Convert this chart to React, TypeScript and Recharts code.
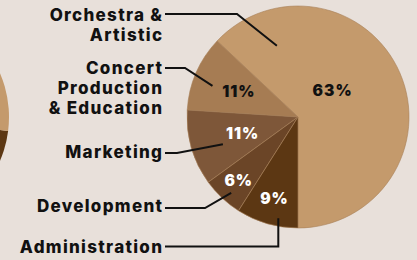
import { PieChart, Pie, Cell } from "recharts";

// budget split
const categories = ["Orchestra & Artistic", "Concert Production & Education", "Marketing", "Development", "Administration"];
const shares = [63, 11, 11, 6, 9];
const labelLines = [["Orchestra &", "Artistic"], ["Concert", "Production", "& Education"], ["Marketing"], ["Development"], ["Administration"]];

// the neighbouring pie that is cut off at the left edge
const neighbourNames = ["Administration", "Orchestra & Artistic"];
const neighbourShares = [23, 77];

const sliceColors = ["#c49a6c", "#a67c53", "#7e5739", "#6b4527", "#5c3713"];
const pctColors = ["#111111", "#111111", "#ffffff", "#ffffff", "#ffffff"];
const neighbourColors = ["#5c3713", "#c49a6c"];
const BG = "#e8e0da";
const FONT = "Inter, 'DejaVu Sans', sans-serif";

const data = categories.map((name, i) => ({ name, value: shares[i] }));
const neighbourData = neighbourNames.map((name, i) => ({ name, value: neighbourShares[i] }));

// callout placement: text baseline, leader y, elbow x, where the leader ends inside the slice
const callouts = [
  { baseline: 21, lineY: 14, elbowX: 237, tipAngle: 106.5, tipR: 0.67, pctAngle: 37, pctR: 0.39 },
  { baseline: 74, lineY: 68, elbowX: 185, tipAngle: 160, tipR: 0.82, pctR: 0.58 },
  { baseline: 158, lineY: 153, elbowX: 177, tipAngle: 200, tipR: 0.72, pctR: 0.52 },
  { baseline: 212, lineY: 208, elbowX: 205, tipAngle: 228.6, tipR: 0.91, pctR: 0.78 },
  { baseline: 253, lineY: 246.5, elbowX: null, tipAngle: 259, tipR: 0.93, pctR: 0.76 },
];

const TEXT_RIGHT = 162;
const SPACING = 1.3;
const RAD = Math.PI / 180;

const polar = (cx: number, cy: number, r: number, a: number) => ({
  x: cx + r * Math.cos(-a * RAD),
  y: cy + r * Math.sin(-a * RAD),
});

const renderCallout = (props: any) => {
  const { cx, cy, midAngle, outerRadius, index, value } = props;
  const c = callouts[index];
  const tip = polar(cx, cy, outerRadius * c.tipR, c.tipAngle);
  const pct = polar(cx, cy, outerRadius * c.pctR, c.pctAngle ?? midAngle);
  const elbowX = c.elbowX ?? tip.x;
  return (
    <g>
      <polyline
        points={`${TEXT_RIGHT + 3},${c.lineY} ${elbowX},${c.lineY} ${tip.x},${tip.y}`}
        fill="none"
        stroke="#111111"
        strokeWidth={2}
      />
      <text
        x={TEXT_RIGHT + SPACING}
        y={c.baseline}
        textAnchor="end"
        fill="#111111"
        style={{ fontFamily: FONT, fontWeight: 800, fontSize: 17, letterSpacing: SPACING }}
      >
        {labelLines[index].map((line, j) => (
          <tspan key={j} x={TEXT_RIGHT + SPACING} dy={j === 0 ? 0 : 20}>
            {line}
          </tspan>
        ))}
      </text>
      <text
        x={pct.x}
        y={pct.y}
        textAnchor="middle"
        dominantBaseline="central"
        fill={pctColors[index]}
        style={{ fontFamily: FONT, fontWeight: 900, fontSize: 15.5, letterSpacing: 1 }}
      >
        {`${value}%`}
      </text>
    </g>
  );
};

export default function App() {
  return (
    <div style={{ position: "fixed", left: 0, top: 0, width: 417, height: 260, background: BG, overflow: "hidden" }}>
      <PieChart width={417} height={260} margin={{ top: 0, right: 0, bottom: 0, left: 0 }}>
        <Pie
          data={neighbourData}
          dataKey="value"
          cx={-102}
          cy={117}
          outerRadius={111}
          startAngle={-90}
          endAngle={270}
          stroke="none"
          isAnimationActive={false}
        >
          {neighbourData.map((d, i) => (
            <Cell key={d.name} fill={neighbourColors[i]} />
          ))}
        </Pie>
        <Pie
          data={data}
          dataKey="value"
          cx={298}
          cy={117}
          outerRadius={111}
          startAngle={-90}
          endAngle={270}
          stroke="#a88058"
          strokeWidth={0.6}
          label={renderCallout}
          labelLine={false}
          isAnimationActive={false}
        >
          {data.map((d, i) => (
            <Cell key={d.name} fill={sliceColors[i]} />
          ))}
        </Pie>
      </PieChart>
    </div>
  );
}
